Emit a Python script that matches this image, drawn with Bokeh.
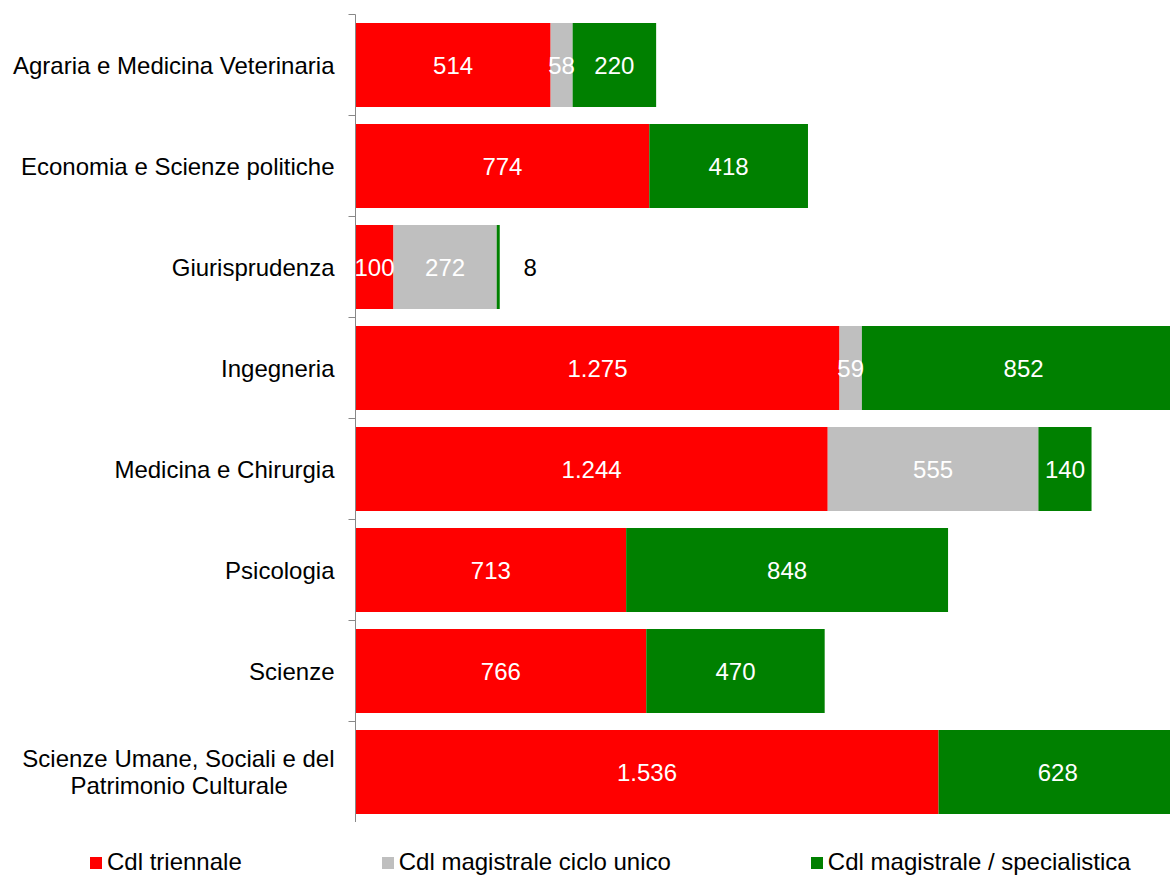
from bokeh.plotting import figure
from bokeh.layouts import column
from bokeh.models import ColumnDataSource, FixedTicker, Legend, LegendItem, Range1d
from bokeh.embed import file_html
from bokeh.resources import INLINE
from bokeh.core.properties import value

NBSP = "\u00a0"
categories = [
    "Agraria e Medicina Veterinaria",
    "Economia e Scienze politiche",
    "Giurisprudenza",
    "Ingegneria",
    "Medicina e Chirurgia",
    "Psicologia",
    "Scienze",
    "Scienze Umane, Sociali e del\nPatrimonio Culturale",
]
triennale = [514, 774, 100, 1275, 1244, 713, 766, 1536]
ciclo_unico = [58, 0, 272, 59, 555, 0, 0, 0]
magistrale = [220, 418, 8, 852, 140, 848, 470, 628]
series_names = ["Cdl triennale", "Cdl magistrale ciclo unico", "Cdl magistrale / specialistica"]
series_colors = ["#FF0000", "#BFBFBF", "#008000"]

FONT = "Liberation Sans"
n = len(categories)
ypos = [n - i - 0.5 for i in range(n)]

p = figure(
    width=1170, height=822, output_backend="svg", toolbar_location=None,
    x_range=Range1d(0, 2147), y_range=Range1d(0, n),
    x_axis_location=None, min_border_left=355, min_border_right=0,
    min_border_top=14, min_border_bottom=0,
)
p.frame_align = False
p.outline_line_color = None
p.xgrid.visible = False
p.ygrid.visible = False

left = [0] * n
lab_x, lab_y, lab_t, lab_c, lab_off = [], [], [], [], []
for vals, name, col in zip([triennale, ciclo_unico, magistrale], series_names, series_colors):
    right = [l + v for l, v in zip(left, vals)]
    src = ColumnDataSource(dict(y=ypos, left=left, right=right))
    p.hbar(y="y", left="left", right="right", height=0.83, source=src,
           fill_color=col, line_color=None)
    for i, v in enumerate(vals):
        if v > 0:
            lab_x.append(left[i] + v / 2)
            lab_y.append(ypos[i])
            lab_t.append(f"{v:,}".replace(",", "."))
            small = v < 20
            lab_c.append("black" if small else "white")
            lab_off.append(32 if small else 0)
    left = right

lsrc = ColumnDataSource(dict(x=lab_x, y=lab_y, t=lab_t, c=lab_c, o=lab_off))
p.text(x="x", y="y", text="t", text_color="c", x_offset="o", source=lsrc,
       text_align="center", text_baseline="middle",
       text_font=value(FONT), text_font_size="24px")


def centered(label):
    # pad the shorter line so that two-line labels look centred
    lines = label.split("\n")
    if len(lines) == 1:
        return label
    return lines[0] + "\n" + lines[1] + NBSP * 7


ax = p.yaxis[0]
ax.ticker = FixedTicker(ticks=ypos, minor_ticks=list(range(n + 1)))
ax.major_label_overrides = {y: centered(c) for y, c in zip(ypos, categories)}
ax.major_tick_out = 0
ax.major_tick_in = 0
ax.minor_tick_out = 7
ax.minor_tick_in = 0
ax.minor_tick_line_color = "#888888"
ax.axis_line_color = "#888888"
ax.major_label_standoff = 14
ax.major_label_text_font = FONT
ax.major_label_text_font_size = "24px"
ax.major_label_text_color = "black"
ax.major_label_text_line_height = 1.0

# legend strip below the chart
pl = figure(
    width=1170, height=54, output_backend="svg", toolbar_location=None,
    x_range=Range1d(0, 1), y_range=Range1d(0, 1),
    x_axis_location=None, y_axis_location=None,
    min_border_left=0, min_border_right=0, min_border_top=0, min_border_bottom=0,
)
pl.frame_align = False
pl.outline_line_color = None
pl.xgrid.visible = False
pl.ygrid.visible = False
items = []
for name, col in zip(series_names, series_colors):
    # legend proxy, kept outside the visible range
    r = pl.quad(left=[-2], right=[-1], bottom=[-2], top=[-1], fill_color=col, line_color=None)
    items.append(LegendItem(label=name, renderers=[r]))
legend = Legend(
    items=items, orientation="horizontal", location=(88, 0),
    glyph_width=15, glyph_height=15, label_standoff=4, spacing=138,
    padding=0, margin=0, border_line_color=None, background_fill_alpha=0,
    label_text_font=FONT, label_text_font_size="24px", label_height=20,
    label_text_color="black",
)
pl.add_layout(legend, "center")

open("out.html", "w").write(file_html(column(p, pl, spacing=0), INLINE))
